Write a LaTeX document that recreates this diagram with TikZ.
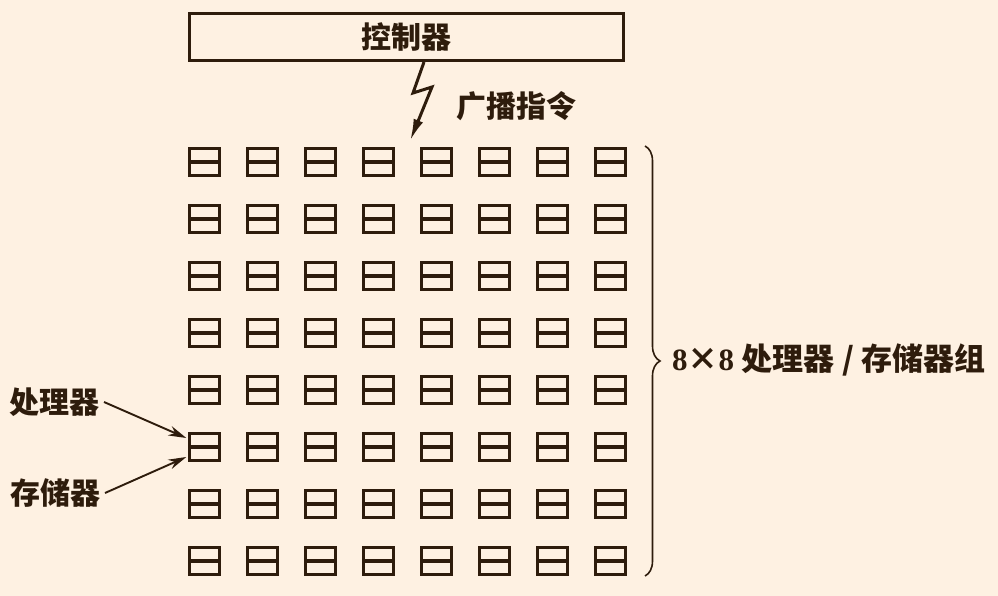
\documentclass[tikz,border=0pt]{standalone}
\usepackage{fontspec}
\setmainfont{Liberation Serif}
\newfontfamily\cjk{Noto Sans CJK SC}
\usetikzlibrary{arrows.meta,decorations.pathreplacing,calc}
\definecolor{bg}{RGB}{254,241,226}
\definecolor{ink}{RGB}{46,28,12}
\begin{document}
\begin{tikzpicture}[x=1pt,y=-1pt,
  cell/.style={draw=ink, line width=3.4pt, minimum width=29.6pt, minimum height=26.6pt, inner sep=0pt},
  ctrlbox/.style={draw=ink, line width=2.8pt, minimum width=434.2pt, minimum height=47.2pt, inner sep=0pt},
  lbl/.style={text=ink, inner sep=4pt, font=\cjk\bfseries\fontsize{30}{32}\selectfont},
  arr/.style={draw=ink, line width=1.9pt, -{Stealth[length=18pt,width=10pt]}},
]
\useasboundingbox (0,0) rectangle (998,596);
\fill[bg] (0,0) rectangle (998,596);

% controller
\node[ctrlbox, lbl] (ctrl) at (406.5,37) {控制器};

% grid of processor/memory cells
\foreach \i in {0,...,7}{
  \foreach \j in {0,...,7}{
    \node[cell] (c-\i-\j) at ({204.5+58*\j},{162+57*\i}) {};
    \draw[ink, line width=3.2pt] (c-\i-\j.west) -- (c-\i-\j.east);
  }
}

% broadcast bolt
\coordinate (b0) at (424,62);
\coordinate (bt) at (410,141);
\draw[ink, line width=3pt, line join=miter, -{Latex[length=22pt,width=10pt]}]
  (b0) -- (413,93) -- (432,87) -- (bt);
\node[lbl, anchor=west, inner sep=0pt] (bc) at (456,106) {广播指令};

% left labels
\node[lbl, anchor=east] (pl) at (104,402) {处理器};
\node[lbl, anchor=east] (ml) at (105,493) {存储器};
\draw[arr] (pl.east) -- ($(c-5-0.west)+(-1.7,-9)$);
\draw[arr] (ml.east) -- ($(c-5-0.west)+(-1.7,10)$);

% brace
\coordinate (br1) at (645,146);
\coordinate (br2) at (645,576);
\draw[ink, line width=1.6pt, decoration={brace, amplitude=15pt}, decorate]
  (br1) -- (br2);
\node[anchor=west, inner sep=0pt, text=ink, font=\bfseries\fontsize{31}{32}\selectfont] (gl) at (672,360)
  {8{\cjk ×}8 {\cjk\bfseries 处理器 / 存储器组}};
\end{tikzpicture}
\end{document}
